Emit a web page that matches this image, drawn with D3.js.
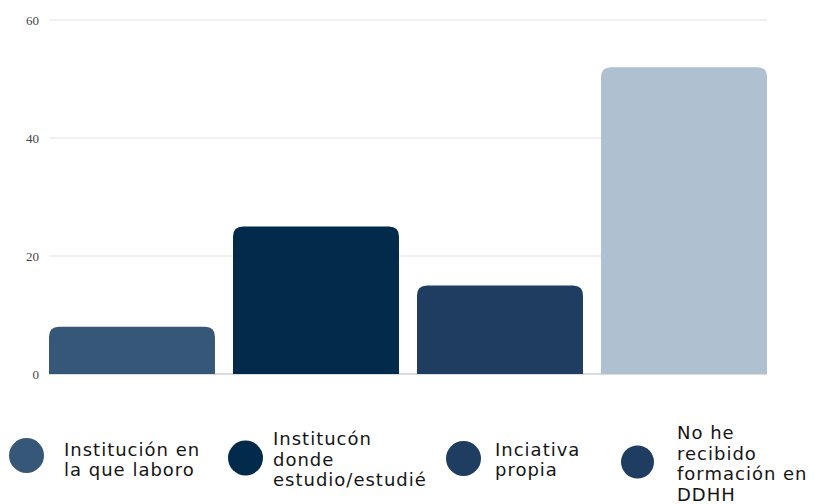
<!DOCTYPE html>
<html><head><meta charset="utf-8">
<script src="https://cdn.jsdelivr.net/npm/d3@7"></script>
<style>body{margin:0;background:#fff}svg{display:block}</style>
</head><body>
<svg id="c" width="814" height="504"></svg>
<script>
const categories = ["Institución en la que laboro","Institucón donde estudio/estudié","Inciativa propia","No he recibido formación en DDHH"];
const values = [8, 25, 15, 52];
const barColors = ["#375779","#022b4b","#1e3d60","#afc1d1"];
const legendColors = ["#375779","#022b4b","#1e3d60","#1e3d60"];
const legendLines = [["Institución en","la que laboro"],["Institucón","donde","estudio/estudié"],["Inciativa","propia"],["No he","recibido","formación en","DDHH"]];
const yTicks = [0,20,40,60];

const svg = d3.select("#c");
const x = d3.scaleBand().domain(categories).range([49,767]).paddingInner(0.098).paddingOuter(0);
const y = d3.scaleLinear().domain([0,60]).range([374,20]);

// grid
svg.append("g").selectAll("line").data(yTicks).join("line")
  .attr("x1",49).attr("x2",767)
  .attr("y1",d=>y(d)).attr("y2",d=>y(d))
  .attr("stroke",d=>d===0?"#cfcfcf":"#e3e3e3").attr("stroke-width",d=>d===0?1.5:1);

const yAxis = svg.append("g").attr("transform","translate(39,0)")
  .call(d3.axisLeft(y).tickValues(yTicks).tickSize(0).tickPadding(0));
yAxis.select(".domain").remove();
yAxis.selectAll("text").attr("font-family","Liberation Serif, serif").attr("font-size",13).attr("fill","#444");

// bars with rounded top corners
const r = 10;
function barPath(x0,w,yt,yb){
  const rr = Math.min(r,(yb-yt),w/2);
  return `M${x0},${yb}V${yt+rr}Q${x0},${yt} ${x0+rr},${yt}H${x0+w-rr}Q${x0+w},${yt} ${x0+w},${yt+rr}V${yb}Z`;
}
svg.append("g").selectAll("path").data(categories).join("path")
  .attr("d",(d,i)=>barPath(x(d),x.bandwidth(),y(values[i]),y(0)))
  .attr("fill",(d,i)=>barColors[i]);

// legend
const legX = [26.5,245.5,463.5,637.5];
const legY = [455.5,458,458.5,462];
const legR = [17.5,17.5,17.5,16.5];
const txtX = [64,273,495,677];
const midY = [466,465.5,466,470];
const lg = svg.append("g").attr("font-family","DejaVu Sans, sans-serif").attr("font-size",18)
  .attr("letter-spacing","1px").attr("fill","#151515");
categories.forEach((c,i)=>{
  const g = lg.append("g");
  g.append("circle").attr("cx",legX[i]).attr("cy",legY[i]).attr("r",legR[i]).attr("fill",legendColors[i]);
  const lines = legendLines[i];
  const lh = 20.8;
  lines.forEach((l,j)=>{
    g.append("text").attr("x",txtX[i]).attr("y",midY[i]+(j-(lines.length-1)/2)*lh).text(l);
  });
});
</script>
</body></html>
